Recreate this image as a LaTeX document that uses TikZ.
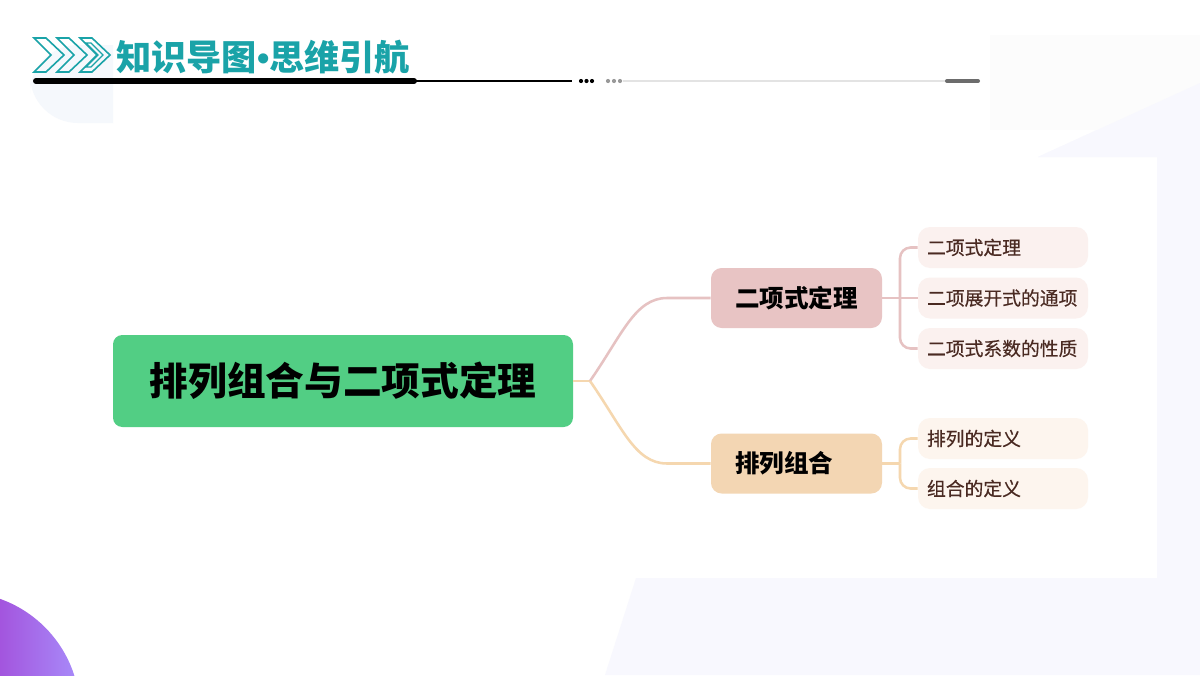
\documentclass[tikz,border=0pt]{standalone}
\usepackage{fontspec}
\newfontfamily\cjk{Noto Sans CJK SC}
\newfontfamily\cjkm[FakeBold=0.5]{Noto Sans CJK SC}
\newfontfamily\lat{Liberation Sans}
\definecolor{teal1}{HTML}{1AA3A8}
\definecolor{mainG}{HTML}{52CE84}
\definecolor{pinkN}{HTML}{E8C4C4}
\definecolor{peachN}{HTML}{F3D6B3}
\definecolor{pinkL}{HTML}{E6C2C2}
\definecolor{peachL}{HTML}{F5D7AF}
\definecolor{leafP}{HTML}{FBF1EF}
\definecolor{leafO}{HTML}{FDF5EE}
\definecolor{leafT}{HTML}{4A2A22}
\definecolor{lav}{HTML}{F8F8FE}
\definecolor{pale}{HTML}{F5F8FC}
\definecolor{paleg}{HTML}{FCFCFC}
\tikzset{
  mainbox/.style={fill=mainG, rounded corners=7, minimum width=460*0.75pt, minimum height=92*0.75pt, inner sep=0pt,
    font=\cjk\bfseries\fontsize{29pt}{31pt}\selectfont, text=black},
  midbox/.style={rounded corners=8, minimum width=171*0.75pt, minimum height=60*0.75pt, inner sep=0pt,
    font=\cjk\bfseries\fontsize{18.4pt}{20pt}\selectfont, text=black, text width=123*0.75pt, align=left},
  leafbox/.style={rounded corners=9, minimum width=170*0.75pt, minimum height=41*0.75pt, inner sep=0pt,
    font=\cjkm\fontsize{14.1pt}{15pt}\selectfont, text=leafT, text width=152*0.75pt, align=left},
  pinkline/.style={draw=pinkL, line width=1.9pt},
  peachline/.style={draw=peachL, line width=1.9pt},
  chev/.style={draw=teal1, line width=1.2pt, line join=miter},
}
\begin{document}
\begin{tikzpicture}[x=0.75pt,y=-0.75pt]
\useasboundingbox (0,0) rectangle (1200,675);
\fill[white] (0,0) rectangle (1200,675);
% background decorations
\fill[lav] (605,675) -- (636,578) -- (1157,578) -- (1157,157) -- (1038,157) -- (1200,83) -- (1200,675) -- cycle;
\fill[paleg] (990,35) rectangle (1200,130);
\fill[lav] (1038,157) -- (1200,83) -- (1200,157) -- cycle;
\begin{scope}
  \clip (0,0) rectangle (113,675);
  \fill[pale, rounded corners=36] (30,45) rectangle (170,123);
\end{scope}
\begin{scope}
  \clip (-40,712) circle (120);
  \shade[left color={rgb,255:red,163;green,85;blue,222}, right color={rgb,255:red,168;green,140;blue,250}] (0,580) rectangle (80,675);
\end{scope}
% title
\foreach \x in {34,57,80}{
  \draw[chev] (\x,38) -- (\x+12,38) -- (\x+30,55) -- (\x+12,72) -- (\x,72) -- (\x+17,55) -- cycle;
}
\draw[chev,line width=0.9pt] (86,43) -- (91,43) -- (103,55) -- (91,67) -- (86,67) -- (98,55) -- cycle;
\node[anchor=west, inner sep=0pt, text=teal1, font=\cjk\bfseries\fontsize{26.4pt}{28pt}\selectfont] (title) at (116,57) {知识导图{\lat\bfseries •}思维引航};
\coordinate (t0) at (36,81);
\coordinate (t1) at (414,81);
\coordinate (t2) at (572,81);
\draw[line width=4.5pt, line cap=round] (t0) -- (t1);
\draw[line width=0.9pt] (t1) -- (t2);
\foreach \x in {581,586.5,592}{\fill[black] (\x,81) circle (2.1);}
\foreach \x in {608,614,620}{\fill[gray!80] (\x,81) circle (2.1);}
\coordinate (g0) at (623,81);
\coordinate (g1) at (947,81);
\coordinate (g2) at (978,81);
\draw[gray!22, line width=1.2pt] (g0) -- (g1);
\draw[gray!85!black, line width=3pt, line cap=round] (g1) -- (g2);
% mind map
\node[mainbox] (main) at (343,381) {排列组合与二项式定理};
\node[midbox, fill=pinkN] (b1) at (796.5,298) {二项式定理};
\node[midbox, fill=peachN] (b2) at (796.5,463.5) {排列组合};
\node[leafbox, fill=leafP] (l1) at (1003,247.5) {二项式定理};
\node[leafbox, fill=leafP] (l2) at (1003,298) {二项展开式的通项};
\node[leafbox, fill=leafP] (l3) at (1003,348.5) {二项式系数的性质};
\node[leafbox, fill=leafO] (l4) at (1003,438.5) {排列的定义};
\node[leafbox, fill=leafO] (l5) at (1003,488.5) {组合的定义};
\coordinate (J) at (590,381);
\coordinate (J1) at (900,298);
\coordinate (J2) at (900,463.5);
\draw[peachline] (main.east) -- (J);
\draw[pinkline] (J) .. controls (622,335) and (635,298) .. (667,298) -- (b1.west);
\draw[peachline] (J) .. controls (622,427) and (635,463.5) .. (667,463.5) -- (b2.west);
\draw[pinkline] (b1.east) -- (J1);
\draw[pinkline, rounded corners=8] (J1) |- (l1.west);
\draw[pinkline] (J1) -- (l2.west);
\draw[pinkline, rounded corners=8] (J1) |- (l3.west);
\draw[peachline] (b2.east) -- (J2);
\draw[peachline, rounded corners=8] (J2) |- (l4.west);
\draw[peachline, rounded corners=8] (J2) |- (l5.west);
\end{tikzpicture}
\end{document}
